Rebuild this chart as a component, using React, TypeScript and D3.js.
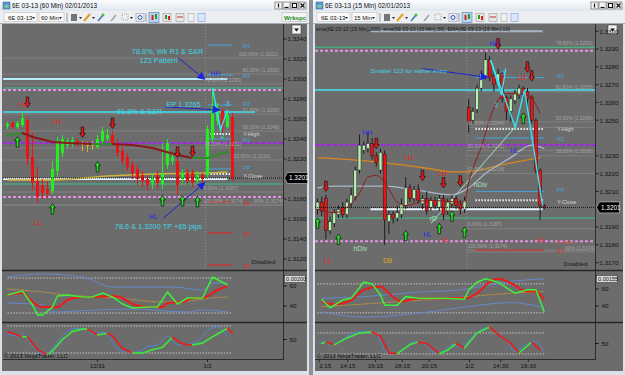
import React from "react";
import * as d3 from "d3";

const FONT = "'Liberation Sans', Arial, Helvetica, sans-serif";

type OHLC = [number, number, number, number];
type Pt = [number, number];
type Note = [string, number, number, string];
type Sig = [number, number, number];
type Fib = [string, number, number];

// ---------------- LEFT (60 Min) ----------------
const leftOHLC: OHLC[] = [
  [1.3253, 1.3257, 1.325, 1.3255], [1.3256, 1.3258, 1.325, 1.3252], [1.3252, 1.3258, 1.325, 1.3256],
  [1.3254, 1.3266, 1.3252, 1.3261], [1.3259, 1.3262, 1.3214, 1.322], [1.3222, 1.3246, 1.3188, 1.3196],
  [1.3198, 1.3212, 1.3176, 1.3182], [1.3194, 1.32, 1.318, 1.3186], [1.319, 1.3198, 1.3181, 1.3185],
  [1.3188, 1.3218, 1.3185, 1.321], [1.3208, 1.3242, 1.3202, 1.3236], [1.3226, 1.3244, 1.3222, 1.324],
  [1.3234, 1.3241, 1.323, 1.3238], [1.3236, 1.3242, 1.3232, 1.3239], [1.3238, 1.3241, 1.3232, 1.3235],
  [1.3235, 1.3238, 1.3228, 1.3235], [1.3234, 1.3237, 1.3227, 1.3234], [1.3234, 1.3238, 1.3229, 1.3234],
  [1.3232, 1.3244, 1.323, 1.324], [1.3238, 1.3252, 1.3236, 1.3248], [1.324, 1.325, 1.3238, 1.3244],
  [1.3244, 1.3248, 1.3234, 1.3236], [1.3236, 1.324, 1.3222, 1.3226], [1.3228, 1.3232, 1.3214, 1.3218],
  [1.3222, 1.3226, 1.3208, 1.3212], [1.3214, 1.3218, 1.32, 1.3206], [1.321, 1.3214, 1.3194, 1.32],
  [1.3204, 1.3208, 1.3192, 1.3198], [1.32, 1.3204, 1.3188, 1.3194], [1.3196, 1.3206, 1.319, 1.3202],
  [1.3204, 1.3208, 1.319, 1.3196], [1.3195, 1.3236, 1.319, 1.3205], [1.3214, 1.324, 1.321, 1.3236],
  [1.3218, 1.3226, 1.3214, 1.3222], [1.3218, 1.3221, 1.3184, 1.3194], [1.32, 1.321, 1.3196, 1.3206],
  [1.3206, 1.321, 1.3194, 1.3198], [1.3206, 1.321, 1.3192, 1.3196], [1.3198, 1.3208, 1.3196, 1.3204],
  [1.3204, 1.3206, 1.3196, 1.32], [1.3204, 1.3254, 1.32, 1.325], [1.324, 1.3291, 1.3236, 1.3272],
  [1.3258, 1.3276, 1.3254, 1.3268], [1.3268, 1.327, 1.3246, 1.3252], [1.3252, 1.3268, 1.325, 1.3264],
  [1.3262, 1.3266, 1.3198, 1.3201],
];
const leftPriceTicks = [1.334, 1.332, 1.33, 1.328, 1.326, 1.324, 1.322, 1.318, 1.316, 1.314, 1.312];
const leftTimeLabels: [number, string][] = [[18, "12/31"], [40, "1/2"]];
const leftMA: Pt[] = [[0, 1.3244], [3, 1.3246], [5, 1.3242], [9, 1.3237], [12, 1.3236], [17, 1.3235], [21, 1.3235], [25, 1.3234], [29, 1.3231], [34, 1.3224], [37, 1.3221], [40, 1.3221], [43, 1.3226], [44, 1.3227]];
const leftGoldMA: Pt[] = [[0, 1.3199], [9, 1.3199], [20, 1.3203], [29, 1.3205], [40, 1.3206], [44, 1.3207]];
const leftNotes: Note[] = [
  ["78.6%, Wk R1 & S&R", 32, 1.3328, "note"], ["123 Pattern", 30.2, 1.3319, "note"],
  ["EP 1.3265", 35.2, 1.3275, "note"], ["61.8% & S&R", 26.4, 1.3268, "note"],
  ["HH", 41.6, 1.3306, "blue"], ["3", 44, 1.3276, "note"], ["2", 43, 1.3244, "note"],
  ["LH", 3, 1.3275, "red"], ["LH", 9.8, 1.3258, "red"], ["LL", 6, 1.3157, "red"],
  ["HL", 29.2, 1.3163, "blue"], ["78.6 & 1.3200 TP +65 pips", 30.2, 1.3153, "note"],
];
const leftSignals: Sig[] = [
  [4, 1.3277, -1], [15, 1.3247, -1], [21, 1.3256, -1], [34, 1.3227, -1], [37, 1.3228, -1],
  [2, 1.3237, 1], [18, 1.3212, 1], [9, 1.317, 1], [31, 1.3178, 1], [35, 1.3178, 1], [38, 1.3177, 1],
];
const leftBlueArrows: [Pt, Pt][] = [
  [[34.2, 1.3321], [39.6, 1.3299]], [[31.6, 1.3272], [42.6, 1.3269]], [[31.2, 1.3161], [39.6, 1.3197]],
];
const leftZigzag: Pt[] = [[41, 1.3291], [42.6, 1.3249], [44, 1.3269]];
const leftFibs: Fib[] = [
  ["100.00% (1.3321)", 1.3321, 46.2], ["80.00% (1.3305)", 1.3305, 47], ["76.60% (1.3295)", 1.3295, 39.4],
  ["61.80% (1.3265)", 1.3265, 47], ["50.00% (1.3248)", 1.3248, 47], ["38.20% (1.3231)", 1.3231, 39.4],
  ["23.60% (1.3210)", 1.3219, 45.2], ["0.00% (1.3187)", 1.3187, 39.2], ["100.00% (1.3174)", 1.3174, 39.2],
  ["00% (1.3174)", 1.3174, 49.2],
];
const leftOsc1Red: Pt[] = [[0, 51], [3, 53], [5, 44], [7, 39], [10, 39], [12, 46], [15, 49], [17, 49], [21, 50], [23, 48], [25, 42], [28, 39], [31, 39], [32, 43], [35, 44], [37, 48], [39, 48], [42, 56], [44, 60]];
const leftOsc1Green: Pt[] = [[0, 51], [3, 55], [5, 41], [6, 31], [7, 31], [9, 39], [10, 50], [12, 51], [15, 49], [17, 49], [19, 53], [21, 49], [23, 42], [25, 38], [28, 39], [30, 39], [32, 54], [34, 42], [36, 48], [39, 48], [41, 69], [44, 61]];
const leftOsc1Upper: Pt[] = [[0, 69], [7, 72], [15, 69], [21, 59], [33, 59], [39, 56], [41, 63], [44, 63]];
const leftOsc1Lower: Pt[] = [[0, 43], [7, 41], [9, 34], [18, 36], [25, 37], [36, 34], [39, 36], [44, 34]];
const leftOsc1Mid: Pt[] = [[0, 57], [7, 54], [12, 51], [22, 48], [31, 44], [36, 45], [41, 48], [44, 49]];
const leftOsc1Bands = [68, 33];
const leftOsc2: Pt[] = [[0, 67], [3, 56], [4, 56], [6, 27], [8, 16], [9, 25], [11, 50], [13, 68], [15, 73], [16, 73], [18, 60], [20, 64], [21, 58], [23, 30], [25, 20], [27, 20], [29, 27], [31, 33], [33, 55], [35, 40], [37, 38], [39, 42], [41, 56], [44, 75], [45, 64]];
const leftOsc2Blue: Pt[] = [[0, 62], [2, 58], [3, 60], [5, 35], [7, 18], [8, 20], [10, 45], [12, 68], [14, 75], [16, 72], [17, 62], [19, 66], [20, 60], [22, 30], [24, 22], [26, 22], [28, 34], [30, 38], [32, 58], [34, 38], [36, 40], [38, 45], [40, 70], [42, 78], [44, 55]];

// ---------------- RIGHT (15 Min) ----------------
const rightOHLC: OHLC[] = [
  [1.32, 1.3206, 1.3197, 1.3204], [1.3204, 1.3207, 1.3196, 1.3199], [1.3206, 1.3208, 1.3183, 1.3188],
  [1.3188, 1.3196, 1.3186, 1.3193], [1.3192, 1.32, 1.319, 1.3198], [1.3197, 1.3202, 1.3195, 1.32],
  [1.3201, 1.3204, 1.3195, 1.3197], [1.3197, 1.3206, 1.3195, 1.3204], [1.3203, 1.3212, 1.3201, 1.3208],
  [1.3207, 1.3224, 1.3205, 1.3222], [1.3222, 1.3242, 1.322, 1.3236], [1.3233, 1.3238, 1.3231, 1.3236],
  [1.3234, 1.3243, 1.3232, 1.3237], [1.3237, 1.324, 1.3228, 1.323], [1.323, 1.3232, 1.3224, 1.3226],
  [1.3222, 1.3234, 1.322, 1.3232], [1.3231, 1.3233, 1.318, 1.3194], [1.3193, 1.3199, 1.3186, 1.3197],
  [1.3197, 1.3199, 1.3192, 1.3195], [1.3195, 1.3202, 1.3193, 1.3198], [1.3197, 1.3206, 1.3195, 1.3203],
  [1.3202, 1.3218, 1.32, 1.3212], [1.3212, 1.3214, 1.3204, 1.3206], [1.3206, 1.3213, 1.3204, 1.3211],
  [1.3211, 1.3214, 1.3203, 1.3205], [1.3203, 1.3208, 1.32, 1.3206], [1.3206, 1.321, 1.3197, 1.3199],
  [1.3201, 1.3207, 1.3199, 1.3205], [1.3205, 1.3207, 1.32, 1.3202], [1.3201, 1.3208, 1.3199, 1.3206],
  [1.3206, 1.3208, 1.3194, 1.3197], [1.3199, 1.3206, 1.3197, 1.3204], [1.3203, 1.3208, 1.3201, 1.3206],
  [1.3206, 1.3208, 1.32, 1.3202], [1.3203, 1.3205, 1.3197, 1.32], [1.32, 1.3207, 1.3198, 1.3205],
  [1.3257, 1.3262, 1.3243, 1.3249], [1.325, 1.3257, 1.3248, 1.3255], [1.3256, 1.327, 1.3254, 1.3268],
  [1.3268, 1.3278, 1.3266, 1.3276], [1.3275, 1.3288, 1.3273, 1.3284], [1.3284, 1.3286, 1.3272, 1.3274],
  [1.3275, 1.3278, 1.3266, 1.327], [1.327, 1.3279, 1.3268, 1.3276], [1.3276, 1.3277, 1.326, 1.3262],
  [1.3263, 1.3264, 1.325, 1.3255], [1.3255, 1.3264, 1.3249, 1.3262], [1.3261, 1.3267, 1.3259, 1.3265],
  [1.3264, 1.327, 1.3262, 1.3268], [1.3268, 1.3269, 1.3262, 1.3265], [1.3266, 1.3268, 1.3258, 1.3262],
  [1.3263, 1.3264, 1.3248, 1.325], [1.325, 1.3251, 1.322, 1.3222], [1.3222, 1.3223, 1.3194, 1.3202],
  [1.3202, 1.3203, 1.32, 1.3201],
];
const rightPriceTicks = [1.33, 1.329, 1.328, 1.327, 1.326, 1.325, 1.323, 1.322, 1.321, 1.319, 1.318, 1.317];
const rightTimeLabels: [number, string][] = [[0.4, "2:15"], [7.2, "14:15"], [13.8, "16:15"], [20.2, "18:15"], [26.6, "20:15"], [36.2, "1/2"], [43.6, "14:30"], [50.2, "16:30"]];
const rightEma200: Pt[] = [[0, 1.3229], [7, 1.3228], [16, 1.3226], [26, 1.3223], [32, 1.3221], [36, 1.3221], [44, 1.3225], [53, 1.3229]];
const rightEma50: Pt[] = [[0, 1.3212], [4, 1.3213], [11, 1.3213], [16, 1.3213], [23, 1.3211], [32, 1.3208], [36, 1.3212], [40, 1.322], [46, 1.3229], [51, 1.3236], [53, 1.3235], [54, 1.3234]];
const rightEma10: Pt[] = [[0, 1.32], [4, 1.3198], [7, 1.3201], [10, 1.3209], [12, 1.3218], [14, 1.3219], [16, 1.3215], [19, 1.3204], [21, 1.3202], [26, 1.3205], [35, 1.3204], [36, 1.3215], [39, 1.3235], [42, 1.3257], [45, 1.3265], [50, 1.3264], [53, 1.3254]];
const rightDivLine: Pt[] = [[27, 1.3192], [47, 1.3246]];
const rightNotes: Note[] = [
  ["Smaller 123 for earlier entry", 21.7, 1.3278, "note"], ["HH", 42.1, 1.3293, "blue"],
  ["3", 44.3, 1.3277, "note"], ["2", 42.6, 1.3259, "note"], ["LH", 48.6, 1.3274, "red"],
  ["HL", 46.9, 1.3233, "blue"], ["HH", 11.9, 1.3243, "blue"], ["LH", 21.7, 1.3229, "red"],
  ["LH", 29.8, 1.322, "red"], ["hDiv", 38.8, 1.3214, "div"], ["rD", 27.6, 1.3195, "div"],
  ["HL", 26.2, 1.3186, "blue"], ["LL", 30.5, 1.3183, "red"], ["LL", 53.3, 1.3183, "red"],
  ["hDiv", 10.2, 1.3178, "div"], ["LL", 2.4, 1.3171, "red"], ["DB", 16.7, 1.3171, "db"],
];
const rightSignals: Sig[] = [
  [2, 1.3213, -1], [14, 1.3237, -1], [25, 1.3219, -1], [30, 1.3215, -1], [34, 1.3216, -1],
  [43, 1.3293, -1], [50, 1.328, -1], [51, 1.3275, -1],
  [0, 1.3192, 1], [5, 1.3183, 1], [21, 1.3185, 1], [29, 1.3189, 1], [32, 1.3196, 1], [35, 1.3187, 1], [49, 1.3251, 1],
];
const rightBlueArrows: [Pt, Pt][] = [[[25, 1.3279], [40.7, 1.3274]]];
const rightZigzagA: Pt[] = [[41.2, 1.3284], [43.8, 1.3264], [44.8, 1.3279]];
const rightZigzagB: Pt[] = [[41.2, 1.3284], [47.1, 1.3246], [49.3, 1.3267], [53.6, 1.3202]];
const rightFibs: Fib[] = [
  ["78.60% (1.3290)", 1.3291, 56.7], ["61.80% (1.3265)", 1.3266, 56.7], ["50.00% (1.3248)", 1.3249, 56.7],
  ["38.20% (1.3230)", 1.323, 56.7], ["61.80% (1.3244)", 1.3246, 35.7], ["50.00% (1.3231)", 1.3233, 35.7],
  ["23.60% (1.3218)", 1.322, 35.7], ["0.00% (1.3187)", 1.3189, 35.7], ["100.00% (1.3174)", 1.3177, 35.7],
  ["00% (1.3174)", 1.3176, 58.9],
];
const rightOsc1Red: Pt[] = [[1, 45], [4, 42], [8, 47], [11, 59], [15, 63], [17, 55], [20, 45], [24, 49], [29, 49], [35, 49], [38, 55], [41, 68], [43, 72], [46, 67], [50, 57], [52, 57], [54, 47]];
const rightOsc1Green: Pt[] = [[1, 48], [3, 38], [6, 47], [8, 49], [11, 68], [13, 66], [15, 53], [16, 41], [19, 41], [21, 51], [24, 49], [30, 49], [35, 48], [36, 59], [38, 68], [40, 72], [43, 68], [47, 55], [50, 59], [52, 59], [54, 33]];
const rightOsc1Upper: Pt[] = [[1, 49], [11, 51], [23, 56], [34, 59], [46, 69], [54, 72]];
const rightOsc1Lower: Pt[] = [[1, 33], [11, 27], [23, 31], [34, 38], [46, 44], [50, 42], [54, 38]];
const rightOsc1Mid: Pt[] = [[1, 39], [16, 44], [31, 49], [46, 55], [54, 57]];
const rightOsc1Bands = [66, 32];
const rightOsc2: Pt[] = [[1, 50], [2, 54], [4, 46], [7, 66], [10, 80], [13, 83], [15, 71], [17, 23], [19, 21], [22, 47], [24, 54], [26, 50], [29, 21], [31, 31], [33, 50], [35, 37], [38, 80], [41, 97], [43, 76], [46, 50], [48, 23], [51, 54], [53, 31]];
const rightOsc2Blue: Pt[] = [[0, 48], [2, 56], [3, 44], [6, 62], [9, 82], [12, 84], [14, 78], [16, 30], [18, 20], [21, 40], [23, 56], [25, 52], [28, 24], [30, 28], [32, 46], [34, 40], [37, 70], [40, 95], [42, 86], [45, 58], [47, 28], [50, 50], [52, 55], [54, 20]];

// ---------------- shared levels ----------------
const pivotNames = ["R4", "R3", "R2", "R1", "PP", "S1", "S2", "S3"];
const pivotPrices = [1.3334, 1.3304, 1.3274, 1.324, 1.321, 1.3177, 1.3146, 1.3114];
const priorDayNames = ["Y-High", "Y-Close", "Y-Low"];
const priorDayPrices = [1.3245, 1.3205, 1.3181];
const greenLevels = [1.3291, 1.3195];
const magentaLevels = [1.3289, 1.3182];
const cyanLevels = [1.3267];
const purpleLevels = [1.3236];
const roundLevels = [1.33, 1.32];
const lastPrice = 1.3201;

type Lin = d3.ScaleLinear<number, number>;
const NOTE_COLORS: Record<string, string> = { note: "#3ed6e6", blue: "#2828e8", red: "#ee1c1c", div: "#a6e2bd", db: "#d8a428" };
const LABEL_DY: Record<string, number> = { PP: -1.5, "Y-Close": 2, R2: -1, "Y-High": -0.5, R1: 0.8, "Y-Low": -1.5 };

function Candles({ data, xs, ys, pale }: { data: OHLC[]; xs: Lin; ys: Lin; pale: boolean }) {
  return (
    <g>
      {data.map((d, i) => {
        const [o, h, l, c] = d;
        const x = xs(i);
        const flat = Math.abs(c - o) < 1e-9;
        const up = c > o;
        const fill = flat ? "#d6ac2e" : up ? (pale ? "#b8f0b0" : "#22ee22") : "#ee1212";
        const wick = pale ? "#1c1c1c" : fill;
        const top = ys(Math.max(o, c));
        const bot = ys(Math.min(o, c));
        return (
          <g key={i}>
            <line x1={x} x2={x} y1={ys(h)} y2={ys(l)} stroke={wick} strokeWidth={1} />
            <rect x={x - 1.5} y={top} width={3} height={Math.max(1, bot - top)} fill={fill}
              stroke={pale ? "#1c1c1c" : "none"} strokeWidth={0.5} />
          </g>
        );
      })}
    </g>
  );
}

function Signal({ x, y, dir }: { x: number; y: number; dir: number }) {
  const pts = [[0, -5.5], [2.8, -1.2], [1.3, -1.2], [1.3, 5], [-1.3, 5], [-1.3, -1.2], [-2.8, -1.2]]
    .map(([a, b]) => `${x + a},${y + b * dir}`).join(" ");
  return <polygon points={pts} fill={dir > 0 ? "#22e022" : "#ee1515"} stroke="#101010" strokeWidth={0.7} />;
}

function BlueArrow({ x1, y1, x2, y2 }: { x1: number; y1: number; x2: number; y2: number }) {
  const a = Math.atan2(y2 - y1, x2 - x1);
  const L = 8, w = 4;
  const bx = x2 - L * Math.cos(a), by = y2 - L * Math.sin(a);
  const p = `${x2},${y2} ${bx + w * Math.sin(a)},${by - w * Math.cos(a)} ${bx - w * Math.sin(a)},${by + w * Math.cos(a)}`;
  return (
    <g>
      <line x1={x1} y1={y1} x2={bx} y2={by} stroke="#2020d0" strokeWidth={1} />
      <polygon points={p} fill="#2020e0" />
    </g>
  );
}

function SlopeLine({ pts, xs, ys, up, down, w }: { pts: Pt[]; xs: Lin; ys: Lin; up: string; down: string; w: number }) {
  return (
    <g>
      {pts.slice(1).map((p, i) => {
        const q = pts[i];
        return <line key={i} x1={xs(q[0])} y1={ys(q[1])} x2={xs(p[0])} y2={ys(p[1])}
          stroke={p[1] >= q[1] ? up : down} strokeWidth={w} strokeLinecap="round" />;
      })}
    </g>
  );
}

function PathLine({ pts, xs, ys, color, w, dash }: { pts: Pt[]; xs: Lin; ys: Lin; color: string; w: number; dash?: string }) {
  const gen = d3.line<Pt>().x((d) => xs(d[0])).y((d) => ys(d[1])).curve(d3.curveMonotoneX);
  return <path d={gen(pts) || ""} fill="none" stroke={color} strokeWidth={w} strokeDasharray={dash} />;
}

function PriceBox({ x, y, label }: { x: number; y: number; label: string }) {
  const pts = `${x + 1},${y} ${x + 4},${y - 5.5} ${x + 24},${y - 5.5} ${x + 24},${y + 5.5} ${x + 4},${y + 5.5}`;
  return (
    <g>
      <polygon points={pts} fill="#000" stroke="#cfcfcf" strokeWidth={0.6} />
      <text x={x + 5.5} y={y + 2.3} fontSize={6.4} fill="#fff">{label}</text>
    </g>
  );
}

function WindowChrome({ x0, w, title, interval, wrk }: { x0: number; w: number; title: string; interval: string; wrk: boolean }) {
  const bx = x0 + w - 34;
  const dd = (x: number) => <path d={`M${x},17 l3,0 l-1.5,2 z`} fill="#222" />;
  return (
    <g>
      <rect x={x0} y={0} width={w} height={375} fill="#dce1e8" />
      <defs>
        <linearGradient id={`tg${x0}`} x1="0" y1="0" x2="0" y2="1">
          <stop offset="0" stopColor="#fbfcfe" />
          <stop offset="1" stopColor="#dfe6ee" />
        </linearGradient>
      </defs>
      <rect x={x0} y={0} width={w} height={11} fill={`url(#tg${x0})`} />
      <rect x={x0 + 3} y={2} width={7} height={7} fill="#5a9ad8" stroke="#2a5a90" strokeWidth={0.5} />
      <rect x={x0 + 4.5} y={5} width={4} height={2.5} fill="#7ed07e" />
      <text x={x0 + 12} y={8.3} fontSize={6.8} fill="#111" textLength={85} lengthAdjust="spacingAndGlyphs">{title}</text>
      {[0, 1, 2, 3].map((i) => (
        <rect key={i} x={bx + i * 8} y={2} width={7} height={7} fill="#f4f4f4" stroke="#555" strokeWidth={0.6} />
      ))}
      <line x1={bx + 3.5} x2={bx + 3.5} y1={3.5} y2={7.5} stroke="#111" strokeWidth={1.2} />
      <line x1={bx + 9.5} x2={bx + 13.5} y1={7.5} y2={7.5} stroke="#111" strokeWidth={1.2} />
      <rect x={bx + 17.5} y={3.5} width={4} height={4} fill="none" stroke="#111" strokeWidth={1} />
      <path d={`M${bx + 25.5},3.5 l4,4 M${bx + 29.5},3.5 l-4,4`} stroke="#111" strokeWidth={1.2} />
      <rect x={x0} y={11} width={w} height={12} fill="#eceef1" />
      <line x1={x0} x2={x0 + w} y1={23.5} y2={23.5} stroke="#a9adb3" />
      <rect x={x0 + 4} y={12.5} width={33} height={9} fill="#fafafa" stroke="#b4b4b4" strokeWidth={0.5} />
      <text x={x0 + 8} y={19.5} fontSize={6} fill="#111">6E 03-13</text>
      {dd(x0 + 32)}
      <rect x={x0 + 39} y={12.5} width={25} height={9} fill="#fafafa" stroke="#b4b4b4" strokeWidth={0.5} />
      <text x={x0 + 41} y={19.5} fontSize={6} fill="#111">{interval}</text>
      {dd(x0 + 59)}
      <line x1={x0 + 67} x2={x0 + 67} y1={13} y2={22} stroke="#999" />
      {[0, 2, 4].map((k) => <line key={k} x1={x0 + 72 + k} x2={x0 + 72 + k} y1={14} y2={21} stroke="#111" strokeWidth={1.1} />)}
      {dd(x0 + 79)}
      <line x1={x0 + 84} y1={21} x2={x0 + 90} y2={14} stroke="#e0a020" strokeWidth={2} />
      {dd(x0 + 92)}
      <line x1={x0 + 98} y1={21} x2={x0 + 103} y2={15} stroke="#3a7ac0" strokeWidth={1.5} />
      <circle cx={x0 + 103} cy={15} r={1.5} fill="#40c040" />
      <line x1={x0 + 111} y1={21} x2={x0 + 116} y2={15} stroke="#a0a0a0" strokeWidth={1.5} />
      <rect x={x0 + 122} y={14} width={6} height={6} fill="none" stroke="#777" strokeWidth={0.6} strokeDasharray="1,1" />
      {dd(x0 + 130)}
      <rect x={x0 + 136} y={13.5} width={8} height={8} fill="#eef" stroke="#889" strokeWidth={0.5} />
      <circle cx={x0 + 140} cy={17.5} r={2} fill="none" stroke="#2a5aa0" />
      <line x1={x0 + 146} x2={x0 + 146} y1={13} y2={22} stroke="#999" />
      <rect x={x0 + 149} y={12.5} width={10} height={10} fill="#b8d4f0" stroke="#4a7ab0" strokeWidth={0.6} />
      <rect x={x0 + 151.5} y={15} width={2} height={5} fill="#e02020" />
      <rect x={x0 + 155} y={14} width={2} height={5} fill="#20a020" />
      <rect x={x0 + 163} y={13.5} width={8} height={8} fill="#e8e8e8" stroke="#888" strokeWidth={0.5} />
      <rect x={x0 + 165} y={15} width={2} height={4} fill="#20a020" />
      <rect x={x0 + 168} y={16} width={2} height={4} fill="#e02020" />
      <rect x={x0 + 176} y={13.5} width={8} height={8} fill="#e8e8e8" stroke="#888" strokeWidth={0.5} />
      <line x1={x0 + 177} x2={x0 + 183} y1={17} y2={17} stroke="#c03030" />
      <rect x={x0 + 188} y={13.5} width={6} height={8} fill="#f0f0f0" stroke="#999" strokeWidth={0.5} />
      <rect x={x0 + 198} y={13.5} width={7} height={8} fill="#d8e8ff" stroke="#6a8acc" strokeWidth={0.5} />
      {wrk && (
        <g>
          <rect x={x0 + w - 27} y={12.5} width={25} height={9} fill="#f4f4f4" stroke="#aaa" strokeWidth={0.5} />
          <text x={x0 + w - 25} y={19.6} fontSize={6.2} fill="#1a8a1a" fontWeight="bold">Wrkspc</text>
        </g>
      )}
      <rect x={x0 + 2} y={24} width={w - 4} height={347} fill="#6c6c6c" />
      <rect x={x0 + w - 17} y={25} width={9} height={9} fill="#f0f0f0" stroke="#333" strokeWidth={0.5} />
      <path d={`M${x0 + w - 15},28.5 l5,0 l-2.5,3 z`} fill="#111" />
    </g>
  );
}

interface SideCfg {
  x0: number; w: number; plotL: number; axisX: number;
  xs: Lin; ys: Lin; o1: Lin; o2: Lin;
  ohlc: OHLC[]; pale: boolean; ticks: number[]; times: [number, string][];
  notes: Note[]; signals: Sig[]; arrows: [Pt, Pt][]; zigzags: Pt[][]; fibs: Fib[];
  fibFrom: number; pivFrom: number; pivTo: number; roundFrom: number; roundTo: number;
  labelX: number; sessionBar: number; noteSize: number; showYLow: boolean;
  osc1Red: Pt[]; osc1Green: Pt[]; osc1Upper: Pt[]; osc1Lower: Pt[]; osc1Mid: Pt[]; osc1Bands: number[];
  osc2: Pt[]; osc2Blue: Pt[]; oscBox: string; id: string;
}

function Side(c: SideCfg) {
  const { xs, ys, o1, o2, plotL, axisX } = c;
  const n = c.ohlc.length - 1;
  const xa = xs(0), xb = xs(n);
  const inView = (p: number) => ys(p) > 27 && ys(p) < 268;
  const hl = (p: number, x1: number, x2: number, color: string, w: number, dash?: string, key?: string) => (
    <line key={key} x1={x1} x2={x2} y1={ys(p)} y2={ys(p)} stroke={color} strokeWidth={w} strokeDasharray={dash} />
  );
  const pivColor = (nm: string) => (nm.startsWith("S") ? "#e82020" : "#44a4dc");
  const yColor = (nm: string) => (nm === "Y-Low" ? "#e24848" : "#d6d6d6");
  const dy = (nm: string) => (LABEL_DY[nm] ?? 0.8) + 2;
  return (
    <g>
      <defs>
        <clipPath id={`m${c.id}`}><rect x={plotL} y={24} width={axisX - plotL} height={246} /></clipPath>
        <clipPath id={`p${c.id}`}><rect x={plotL} y={271} width={axisX - plotL} height={88} /></clipPath>
      </defs>
      {/* main panel */}
      <g clipPath={`url(#m${c.id})`}>
        {c.fibs.map((f, i) => hl(f[1], c.fibFrom, axisX, "#8a8a8a", 0.7, undefined, `fl${i}`))}
        <line x1={xs(c.sessionBar)} x2={xs(c.sessionBar)} y1={24} y2={270} stroke="#9a9a9a" strokeWidth={0.7} strokeDasharray="1,2" />
        {greenLevels.map((p, i) => hl(p, plotL, axisX, "#3cc58a", 1, undefined, `g${i}`))}
        {magentaLevels.map((p, i) => hl(p, plotL, axisX, "#e28ee2", 2, "3,2", `mg${i}`))}
        {purpleLevels.map((p, i) => hl(p, plotL, axisX, "#a226ee", 2, "4,2", `pu${i}`))}
        {cyanLevels.map((p, i) => hl(p, plotL, c.pale ? axisX : xs(49.5), "#40e4f2", 1.6, undefined, `cy${i}`))}
        {hl(roundLevels[0], xs(c.roundFrom), xs(c.roundTo), c.pale ? "#aab6c2" : "#b6eefa", 2)}
        {hl(roundLevels[1], xs(c.roundFrom), xs(c.roundTo), "#e4f4fa", 2)}
        {pivotPrices.map((p, i) => inView(p) && hl(p, xs(c.pivFrom), xs(c.pivTo), pivColor(pivotNames[i]), 1, undefined, `pv${i}`))}
        {priorDayPrices.slice(0, 2).map((p, i) => hl(p, xs(c.pivFrom), xs(c.pivTo), "#eeeeee", 2, "1.5,1.5", `yd${i}`))}
        <PathLine pts={c.id === "L" ? leftGoldMA : rightEma200} xs={xs} ys={ys} color={c.id === "L" ? "#cdb640" : "#d8861e"} w={c.id === "L" ? 1.5 : 1.3} />
        {c.id === "R" && <PathLine pts={rightEma50} xs={xs} ys={ys} color="#a8b8c8" w={1.3} />}
        {c.id === "R" && <PathLine pts={rightDivLine} xs={xs} ys={ys} color="#9fe0bc" w={1} />}
        <Candles data={c.ohlc} xs={xs} ys={ys} pale={c.pale} />
        {c.id === "L" && <SlopeLine pts={leftMA} xs={xs} ys={ys} up="#2e8e2e" down="#8a1a1a" w={2} />}
        {c.id === "R" && <PathLine pts={rightEma10} xs={xs} ys={ys} color="#8e1e1e" w={1} />}
        <line x1={plotL} x2={axisX} y1={ys(lastPrice)} y2={ys(lastPrice)} stroke="#000" strokeWidth={0.8} strokeDasharray="1,1" />
        {c.zigzags.map((z, i) => (
          <polyline key={i} points={z.map((p) => `${xs(p[0])},${ys(p[1])}`).join(" ")} fill="none" stroke="#30e8f4" strokeWidth={1.4} />
        ))}
        {c.arrows.map((a, i) => <BlueArrow key={i} x1={xs(a[0][0])} y1={ys(a[0][1])} x2={xs(a[1][0])} y2={ys(a[1][1])} />)}
        {c.signals.map((s, i) => <Signal key={i} x={xs(s[0])} y={ys(s[1])} dir={s[2]} />)}
        {c.fibs.map((f, i) => (
          <text key={i} x={xs(f[2])} y={ys(f[1]) - 2.4} fontSize={5} fill="#a4a4a4">{f[0]}</text>
        ))}
        {pivotNames.map((nm, i) => inView(pivotPrices[i]) && (
          <text key={nm} x={c.labelX} y={ys(pivotPrices[i]) + dy(nm)} fontSize={5.6} fill={pivColor(nm)}>{nm}</text>
        ))}
        {priorDayNames.slice(0, c.showYLow ? 3 : 2).map((nm, i) => (
          <text key={nm} x={c.labelX} y={ys(priorDayPrices[i]) + dy(nm)} fontSize={5.6} fill={yColor(nm)}>{nm}</text>
        ))}
        {c.notes.map((nt, i) => (
          <text key={i} x={xs(nt[1])} y={ys(nt[2]) + 2.5} fontSize={nt[3] === "note" ? c.noteSize : 6.8}
            textAnchor="middle" fill={NOTE_COLORS[nt[3]]}>{nt[0]}</text>
        ))}
        <text x={axisX - 8} y={c.id === "L" ? 264 : 266} fontSize={6.2} textAnchor="end" fill="#1a1a1a">Disabled</text>
      </g>
      {/* price axis */}
      <line x1={axisX} x2={axisX} y1={24} y2={360} stroke="#1c1c1c" strokeWidth={0.8} />
      {c.ticks.map((t) => (
        <g key={t}>
          <line x1={axisX} x2={axisX + 3} y1={ys(t)} y2={ys(t)} stroke="#111" strokeWidth={0.8} />
          <text x={axisX + 4} y={ys(t) + 2.3} fontSize={6.2} fill="#111">{t.toFixed(4)}</text>
        </g>
      ))}
      <PriceBox x={axisX} y={ys(lastPrice)} label={lastPrice.toFixed(4)} />
      {/* separators */}
      <line x1={c.x0 + 2} x2={c.x0 + c.w - 2} y1={270.5} y2={270.5} stroke="#262626" strokeWidth={1.4} />
      <line x1={c.x0 + 2} x2={c.x0 + c.w - 2} y1={322.5} y2={322.5} stroke="#262626" strokeWidth={1.4} />
      <line x1={plotL} x2={axisX} y1={359.5} y2={359.5} stroke="#1c1c1c" strokeWidth={0.8} />
      {/* oscillators */}
      <g clipPath={`url(#p${c.id})`}>
        {c.osc1Bands.map((b, i) => (
          <line key={i} x1={xa} x2={xb} y1={o1(b)} y2={o1(b)} stroke="#c4c4c4" strokeWidth={1} strokeDasharray="1.5,1.5" />
        ))}
        <PathLine pts={c.osc1Upper} xs={xs} ys={o1} color="#6688cc" w={1} />
        <PathLine pts={c.osc1Lower} xs={xs} ys={o1} color="#6688cc" w={1} />
        <PathLine pts={c.osc1Mid} xs={xs} ys={o1} color="#d0a030" w={1} dash="1.5,1" />
        <PathLine pts={c.osc1Red} xs={xs} ys={o1} color="#ee1a1a" w={2} />
        <polyline points={c.osc1Green.map((p) => `${xs(p[0])},${o1(p[1])}`).join(" ")} fill="none" stroke="#3cf03c" strokeWidth={1.5} />
        {[80, 20].map((b) => (
          <line key={b} x1={xa} x2={xb} y1={o2(b)} y2={o2(b)} stroke="#c4c4c4" strokeWidth={1} strokeDasharray="1.5,1.5" />
        ))}
        <PathLine pts={c.osc2Blue} xs={xs} ys={o2} color="#4a8ad8" w={1} />
        <SlopeLine pts={c.osc2} xs={xs} ys={o2} up="#3ce83c" down="#ee1a1a" w={1.6} />
      </g>
      <text x={axisX + 6} y={o1(60) + 2.3} fontSize={6.2} fill="#111">60</text>
      <text x={axisX + 6} y={o1(40) + 2.3} fontSize={6.2} fill="#111">40</text>
      <text x={axisX + 6} y={o2(50) + 2.3} fontSize={6.2} fill="#111">50</text>
      <line x1={axisX} x2={axisX + 3} y1={o1(60)} y2={o1(60)} stroke="#111" />
      <line x1={axisX} x2={axisX + 3} y1={o1(40)} y2={o1(40)} stroke="#111" />
      <line x1={axisX} x2={axisX + 3} y1={o2(50)} y2={o2(50)} stroke="#111" />
      <rect x={axisX + 1} y={275.5} width={21} height={7} fill="#d8d8d8" stroke="#222" strokeWidth={0.5} />
      <text x={axisX + 2.5} y={281} fontSize={5.6} fill="#111">{c.oscBox}</text>
      <text x={c.x0 + 4} y={357.5} fontSize={5.8} fill="#111">© 2013 NinjaTrader, LLC</text>
      {/* time axis */}
      {c.times.map(([b, s], i) => (
        <g key={i}>
          <line x1={xs(b)} x2={xs(b)} y1={359.5} y2={362} stroke="#111" strokeWidth={0.8} />
          <text x={xs(b)} y={368} fontSize={6.2} textAnchor={i === 0 && c.id === "R" ? "start" : "middle"} fill="#111">{s}</text>
        </g>
      ))}
    </g>
  );
}

export default function App() {
  const xL = d3.scaleLinear().domain([0, 45]).range([7.5, 232.5]);
  const yL = d3.scaleLinear().domain([1.334, 1.312]).range([39, 259]);
  const xR = d3.scaleLinear().domain([0, 54]).range([317.5, 544.3]);
  const yR = d3.scaleLinear().domain([1.329, 1.317]).range([49, 262.6]);
  const o1L = d3.scaleLinear().domain([60, 40]).range([286, 306]);
  const o2L = d3.scaleLinear().domain([80, 20]).range([326, 353]);
  const o1R = d3.scaleLinear().domain([60, 40]).range([289, 306]);
  const o2R = d3.scaleLinear().domain([80, 20]).range([333, 354]);

  return (
    <svg width={625} height={375} viewBox="0 0 625 375" fontFamily={FONT}
      style={{ position: "absolute", left: 0, top: 0, display: "block" }}>
      <rect x={0} y={0} width={625} height={375} fill="#8e9298" />
      <WindowChrome x0={0} w={309} title="6E 03-13 (60 Min)  02/01/2013" interval="60 Min" wrk={true} />
      <WindowChrome x0={313} w={312} title="6E 03-13 (15 Min)  02/01/2013" interval="15 Min" wrk={false} />
      <Side
        id="L" x0={0} w={309} plotL={3} axisX={283.5} xs={xL} ys={yL} o1={o1L} o2={o2L}
        ohlc={leftOHLC} pale={false} ticks={leftPriceTicks} times={leftTimeLabels}
        notes={leftNotes} signals={leftSignals} arrows={leftBlueArrows} zigzags={[leftZigzag]} fibs={leftFibs}
        fibFrom={3} pivFrom={40} pivTo={45} roundFrom={-2} roundTo={44} labelX={243} sessionBar={39.6}
        noteSize={7.4} showYLow={false}
        osc1Red={leftOsc1Red} osc1Green={leftOsc1Green} osc1Upper={leftOsc1Upper} osc1Lower={leftOsc1Lower}
        osc1Mid={leftOsc1Mid} osc1Bands={leftOsc1Bands} osc2={leftOsc2} osc2Blue={leftOsc2Blue} oscBox="0.00200"
      />
      <Side
        id="R" x0={313} w={312} plotL={315} axisX={595.5} xs={xR} ys={yR} o1={o1R} o2={o2R}
        ohlc={rightOHLC} pale={true} ticks={rightPriceTicks} times={rightTimeLabels}
        notes={rightNotes} signals={rightSignals} arrows={rightBlueArrows} zigzags={[rightZigzagA, rightZigzagB]} fibs={rightFibs}
        fibFrom={xR(35.5)} pivFrom={37.6} pivTo={54} roundFrom={12.6} roundTo={53.6} labelX={557} sessionBar={35.6}
        noteSize={6.2} showYLow={true}
        osc1Red={rightOsc1Red} osc1Green={rightOsc1Green} osc1Upper={rightOsc1Upper} osc1Lower={rightOsc1Lower}
        osc1Mid={rightOsc1Mid} osc1Bands={rightOsc1Bands} osc2={rightOsc2} osc2Blue={rightOsc2Blue} oscBox="0.00155"
      />
      <text x={316} y={31} fontSize={5.2} fill="#161616" textLength={194} lengthAdjust="spacingAndGlyphs">
        ema(6E 03-13 (15 Min),200), ema(6E 03-13 (15 Min),50), EMA(6E 03-13 (15 Min),10)
      </text>
    </svg>
  );
}
